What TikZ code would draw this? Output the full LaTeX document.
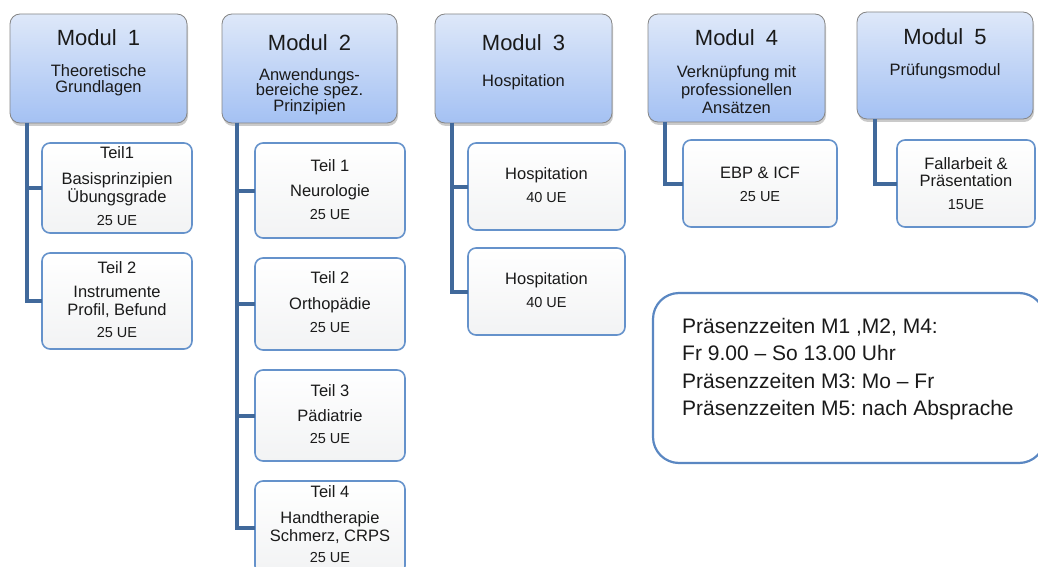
\documentclass[tikz,border=0pt]{standalone}
\usepackage{fontspec}
\setmainfont{Liberation Sans}
\usetikzlibrary{shadows}
\frenchspacing

\definecolor{modtop}{HTML}{DEE8F9}
\definecolor{modbot}{HTML}{A4C1F3}
\definecolor{modline}{HTML}{858585}
\definecolor{partline}{HTML}{6592CB}
\definecolor{partbot}{HTML}{F2F3F4}
\definecolor{connblue}{HTML}{41699B}
\definecolor{noteline}{HTML}{5A87C2}
\definecolor{txtc}{HTML}{1A1A1A}

\newcommand\fsTitle{\fontsize{22}{24}\selectfont}
\newcommand\fsSub[1]{\fontsize{16.5}{#1}\selectfont}
\newcommand\fsUE{\fontsize{14.5}{16}\selectfont}
\newcommand\fsNote{\fontsize{21}{27.6}\selectfont}

\tikzset{
  modbox/.style={draw=modline, line width=0.8pt, rounded corners=10pt,
    top color=modtop, bottom color=modbot, inner sep=0pt, outer sep=0pt,
    drop shadow={shadow xshift=1pt, shadow yshift=-3pt, opacity=0.35, fill=black!60}},
  partbox/.style={draw=partline, line width=1.6pt, rounded corners=8pt,
    top color=white, bottom color=partbot, inner sep=0pt, outer sep=0pt},
  notebox/.style={draw=noteline, line width=2.2pt, rounded corners=26pt,
    fill=white, inner sep=0pt, outer sep=0pt},
  conn/.style={draw=connblue, line width=4pt},
  txt/.style={inner sep=0pt, align=center, text=txtc},
}

\begin{document}
\begin{tikzpicture}[x=1pt, y=-1pt]
\useasboundingbox (0,0) rectangle (1038,567);

% module header boxes
\node[modbox, minimum width=177pt, minimum height=109pt] (m1) at (98.5,68.5) {};
\node[modbox, minimum width=175pt, minimum height=109pt] (m2) at (309.5,68.5) {};
\node[modbox, minimum width=177pt, minimum height=109pt] (m3) at (523.5,68.5) {};
\node[modbox, minimum width=177pt, minimum height=108pt] (m4) at (736.5,68) {};
\node[modbox, minimum width=176pt, minimum height=107pt] (m5) at (945,65.5) {};

% module parts
\node[partbox, minimum width=150pt, minimum height=90pt] (c11) at (117,188) {};
\node[partbox, minimum width=150pt, minimum height=96pt] (c12) at (117,301) {};
\node[partbox, minimum width=150pt, minimum height=95pt] (c21) at (330,190.5) {};
\node[partbox, minimum width=150pt, minimum height=92pt] (c22) at (330,304) {};
\node[partbox, minimum width=150pt, minimum height=91pt] (c23) at (330,415.5) {};
\node[partbox, minimum width=150pt, minimum height=93pt] (c24) at (330,527.5) {};
\node[partbox, minimum width=157pt, minimum height=87pt] (c31) at (546.5,186.5) {};
\node[partbox, minimum width=157pt, minimum height=87pt] (c32) at (546.5,291.5) {};
\node[partbox, minimum width=154pt, minimum height=87pt] (c41) at (760,183.5) {};
\node[partbox, minimum width=138pt, minimum height=87pt] (c51) at (966,183.5) {};

% connectors
\draw[conn] ([xshift=17pt]m1.south west) |- (c11.west);
\draw[conn] ([xshift=17pt]m1.south west) |- (c12.west);
\draw[conn] ([xshift=15pt]m2.south west) |- (c21.west);
\draw[conn] ([xshift=15pt]m2.south west) |- (c22.west);
\draw[conn] ([xshift=15pt]m2.south west) |- (c23.west);
\draw[conn] ([xshift=15pt]m2.south west) |- (c24.west);
\draw[conn] ([xshift=17pt]m3.south west) |- (c31.west);
\draw[conn] ([xshift=17pt]m3.south west) |- (c32.west);
\draw[conn] ([xshift=17pt]m4.south west) |- (c41.west);
\draw[conn] ([xshift=18pt]m5.south west) |- (c51.west);

% module titles and subtitles
\node[txt, font=\fsTitle] (m1t) at (98.5,38) {Modul\enspace 1};
\node[txt, font=\fsSub{15.5}] (m1s) at (98.5,80) {Theoretische\\Grundlagen};
\node[txt, font=\fsTitle] (m2t) at (309.5,43) {Modul\enspace 2};
\node[txt, font=\fsSub{15.5}] (m2s) at (309.5,91.5) {Anwendungs-\\bereiche spez.\\Prinzipien};
\node[txt, font=\fsTitle] (m3t) at (523.5,43) {Modul\enspace 3};
\node[txt, font=\fsSub{16}] (m3s) at (523.5,82) {Hospitation};
\node[txt, font=\fsTitle] (m4t) at (736.5,38) {Modul\enspace 4};
\node[txt, font=\fsSub{18}] (m4s) at (736.5,90) {Verknüpfung mit\\professionellen\\Ansätzen};
\node[txt, font=\fsTitle] (m5t) at (945,37) {Modul\enspace 5};
\node[txt, font=\fsSub{16}] (m5s) at (945,71) {Prüfungsmodul};

% part texts, module 1
\node[txt, font=\fsSub{17}] (c11h) at (117,153) {Teil1};
\node[txt, font=\fsSub{17}] (c11b) at (117,189) {Basisprinzipien\\Übungsgrade};
\node[txt, font=\fsUE] (c11u) at (117,221) {25 UE};
\node[txt, font=\fsSub{17}] (c12h) at (117,268) {Teil 2};
\node[txt, font=\fsSub{18}] (c12b) at (117,302) {Instrumente\\Profil, Befund};
\node[txt, font=\fsUE] (c12u) at (117,333) {25 UE};

% part texts, module 2
\node[txt, font=\fsSub{17}] (c21h) at (330,166) {Teil 1};
\node[txt, font=\fsSub{17}] (c21b) at (330,192) {Neurologie};
\node[txt, font=\fsUE] (c21u) at (330,215) {25 UE};
\node[txt, font=\fsSub{17}] (c22h) at (330,278) {Teil 2};
\node[txt, font=\fsSub{17}] (c22b) at (330,305) {Orthopädie};
\node[txt, font=\fsUE] (c22u) at (330,328) {25 UE};
\node[txt, font=\fsSub{17}] (c23h) at (330,391) {Teil 3};
\node[txt, font=\fsSub{17}] (c23b) at (330,416) {Pädiatrie};
\node[txt, font=\fsUE] (c23u) at (330,439) {25 UE};
\node[txt, font=\fsSub{17}] (c24h) at (330,492) {Teil 4};
\node[txt, font=\fsSub{18}] (c24b) at (330,528) {Handtherapie\\Schmerz, CRPS};
\node[txt, font=\fsUE] (c24u) at (330,558) {25 UE};

% part texts, modules 3 to 5
\node[txt, font=\fsSub{17}] (c31b) at (546.5,175) {Hospitation};
\node[txt, font=\fsUE] (c31u) at (546.5,198) {40 UE};
\node[txt, font=\fsSub{17}] (c32b) at (546.5,280) {Hospitation};
\node[txt, font=\fsUE] (c32u) at (546.5,303) {40 UE};
\node[txt, font=\fsSub{17}] (c41b) at (760,173) {EBP \& ICF};
\node[txt, font=\fsUE] (c41u) at (760,197) {25 UE};
\node[txt, font=\fsSub{17}] (c51b) at (966,172) {Fallarbeit \&\\Präsentation};
\node[txt, font=\fsUE] (c51u) at (966,205) {15UE};

% attendance note
\node[notebox, minimum width=392pt, minimum height=170pt] (note) at (849,378) {};
\node[inner sep=0pt, align=left, text=txtc, font=\fsNote, anchor=west] (notet) at (682,369)
  {Präsenzzeiten M1 ,M2, M4:\\Fr 9.00 – So 13.00 Uhr\\Präsenzzeiten M3: Mo – Fr\\Präsenzzeiten M5: nach Absprache};
\end{tikzpicture}
\end{document}
